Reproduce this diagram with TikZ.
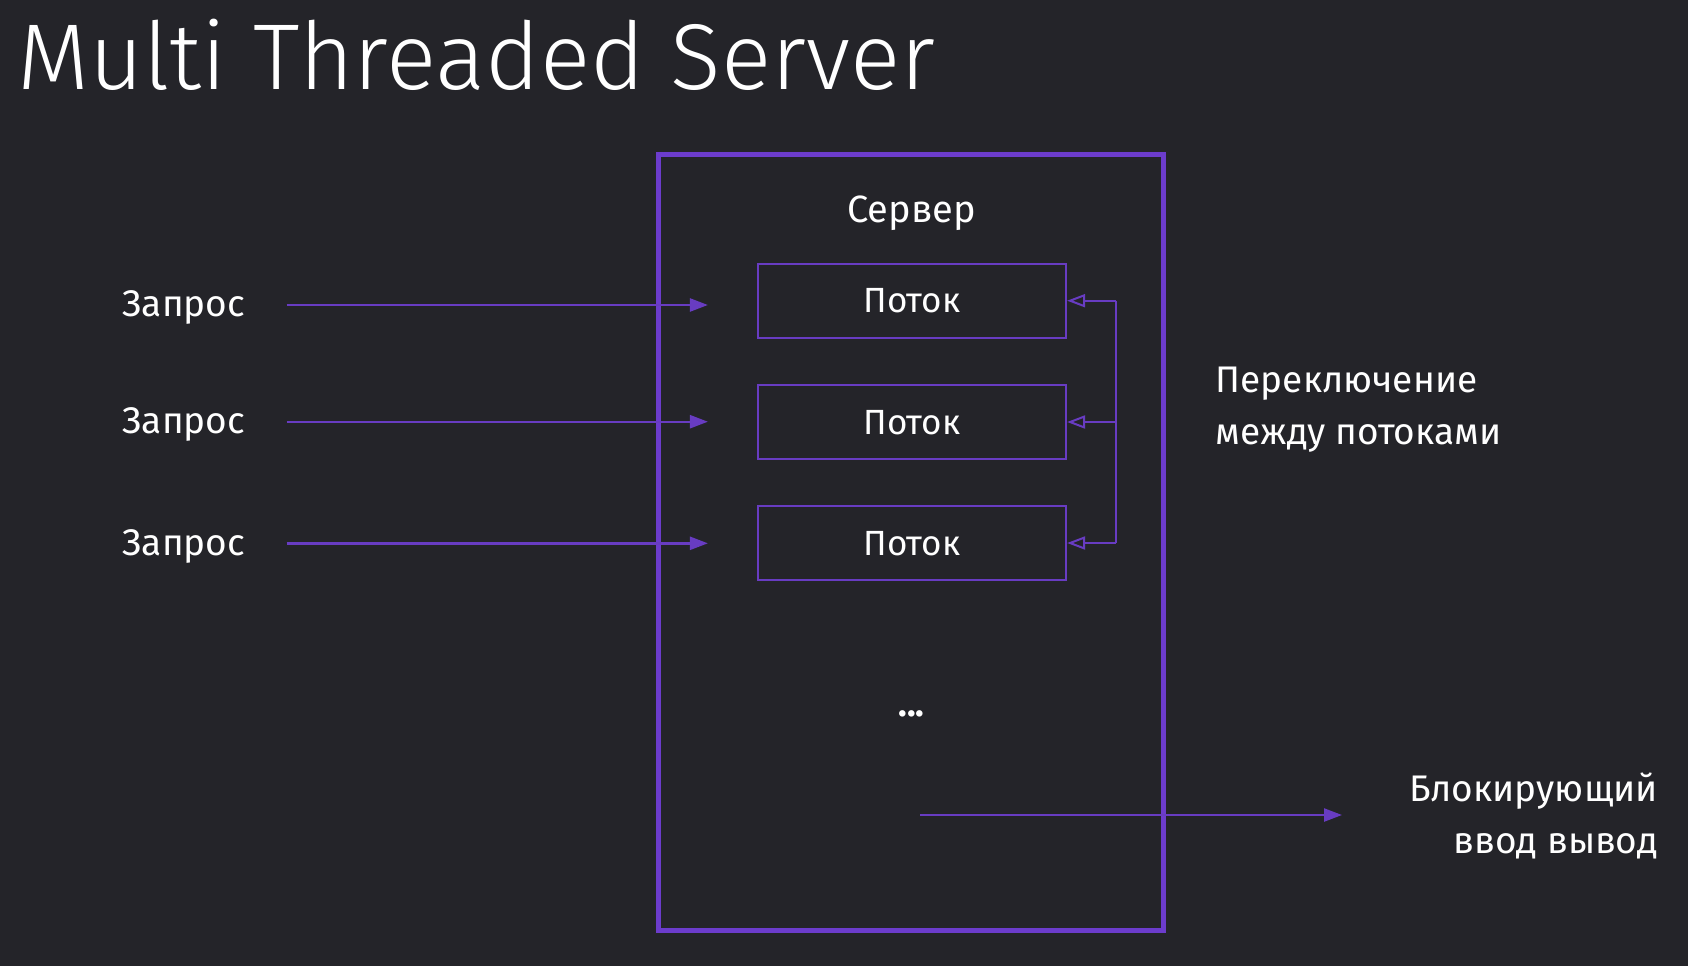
\documentclass[tikz,border=0pt]{standalone}
\usepackage{fontspec}
\setmainfont{Fira Sans}
\newfontfamily\titlefont{Fira Sans Light}
\usetikzlibrary{arrows.meta}
\definecolor{bgcol}{RGB}{36,36,41}
\definecolor{purp}{RGB}{108,60,204}
\definecolor{purpthin}{RGB}{104,60,194}
\tikzset{
  lbl/.style={text=white, inner sep=0pt, font=\fontsize{37}{44}\selectfont},
  threadbox/.style={draw=purpthin, line width=2.2pt, minimum width=308pt, minimum height=74pt,
    inner sep=0pt, text=white, text depth=0pt, font=\fontsize{35}{42}\selectfont},
  reqarrow/.style={draw=purpthin, line width=2.4pt, -{Triangle[length=18pt,width=13pt]}},
  swline/.style={draw=purpthin, line width=2pt},
  swarrow/.style={draw=purpthin, line width=2pt, -{Triangle[open,length=18pt,width=13pt]}},
  frame/.style={draw=purp, line width=5pt}
}
\begin{document}
\begin{tikzpicture}[x=1pt,y=-1pt]
\useasboundingbox[fill=bgcol] (0,0) rectangle (1688,966);
% title
\node[anchor=base west, inner sep=0pt, text=white, font=\titlefont\fontsize{93.5}{100}\selectfont] (title) at (17,89) {Multi Threaded Server};
% server frame
\node[frame, minimum width=505pt, minimum height=776pt, inner sep=0pt, outer sep=0pt] (server) at (910.5,542.5) {};
\node[lbl, anchor=base, font=\fontsize{38}{45}\selectfont] (srvlbl) at (911.5,222.3) {Сервер};
% threads
\node[threadbox] (t1) at (912,300.7) {Поток};
\node[threadbox] (t2) at (912,422) {Поток};
\node[threadbox] (t3) at (912,543) {Поток};
% requests
\node[lbl, anchor=base west] (r1) at (122.5,316.7) {Запрос};
\node[lbl, anchor=base west] (r2) at (122.5,433.4) {Запрос};
\node[lbl, anchor=base west] (r3) at (122.5,555) {Запрос};
\coordinate (in1) at (286.7,305);
\coordinate (in2) at (286.7,421.7);
\coordinate (in3) at (286.7,543.3);
\draw[reqarrow, shorten >=49pt] (in1) -- (in1 -| t1.west);
\draw[reqarrow, shorten >=49pt] (in2) -- (in2 -| t2.west);
\draw[reqarrow, shorten >=49pt] (in3) -- (in3 -| t3.west);
% switching bus
\coordinate (b1) at ([xshift=49pt]t1.east);
\coordinate (b2) at ([xshift=49pt]t2.east);
\coordinate (b3) at ([xshift=49pt]t3.east);
\draw[swline] (b1) -- (b3);
\draw[swarrow] (b1) -- (t1.east);
\draw[swarrow] (b2) -- (t2.east);
\draw[swarrow] (b3) -- (t3.east);
\node[lbl, anchor=base west] (sw1) at (1215.5,392.7) {Переключение};
\node[lbl, anchor=base west] (sw2) at (1215.5,444.3) {между потоками};
% dots
\node[lbl, anchor=base, font=\bfseries\fontsize{36}{42}\selectfont] (dots) at (911.5,716) {...};
% blocking io
\coordinate (io1) at (920,815);
\coordinate (io2) at (1342,815);
\draw[reqarrow] (io1) -- (io2);
\node[lbl, anchor=base east] (bio1) at (1658,801.7) {Блокирующий};
\node[lbl, anchor=base east] (bio2) at (1658,853.3) {ввод вывод};
\end{tikzpicture}
\end{document}
